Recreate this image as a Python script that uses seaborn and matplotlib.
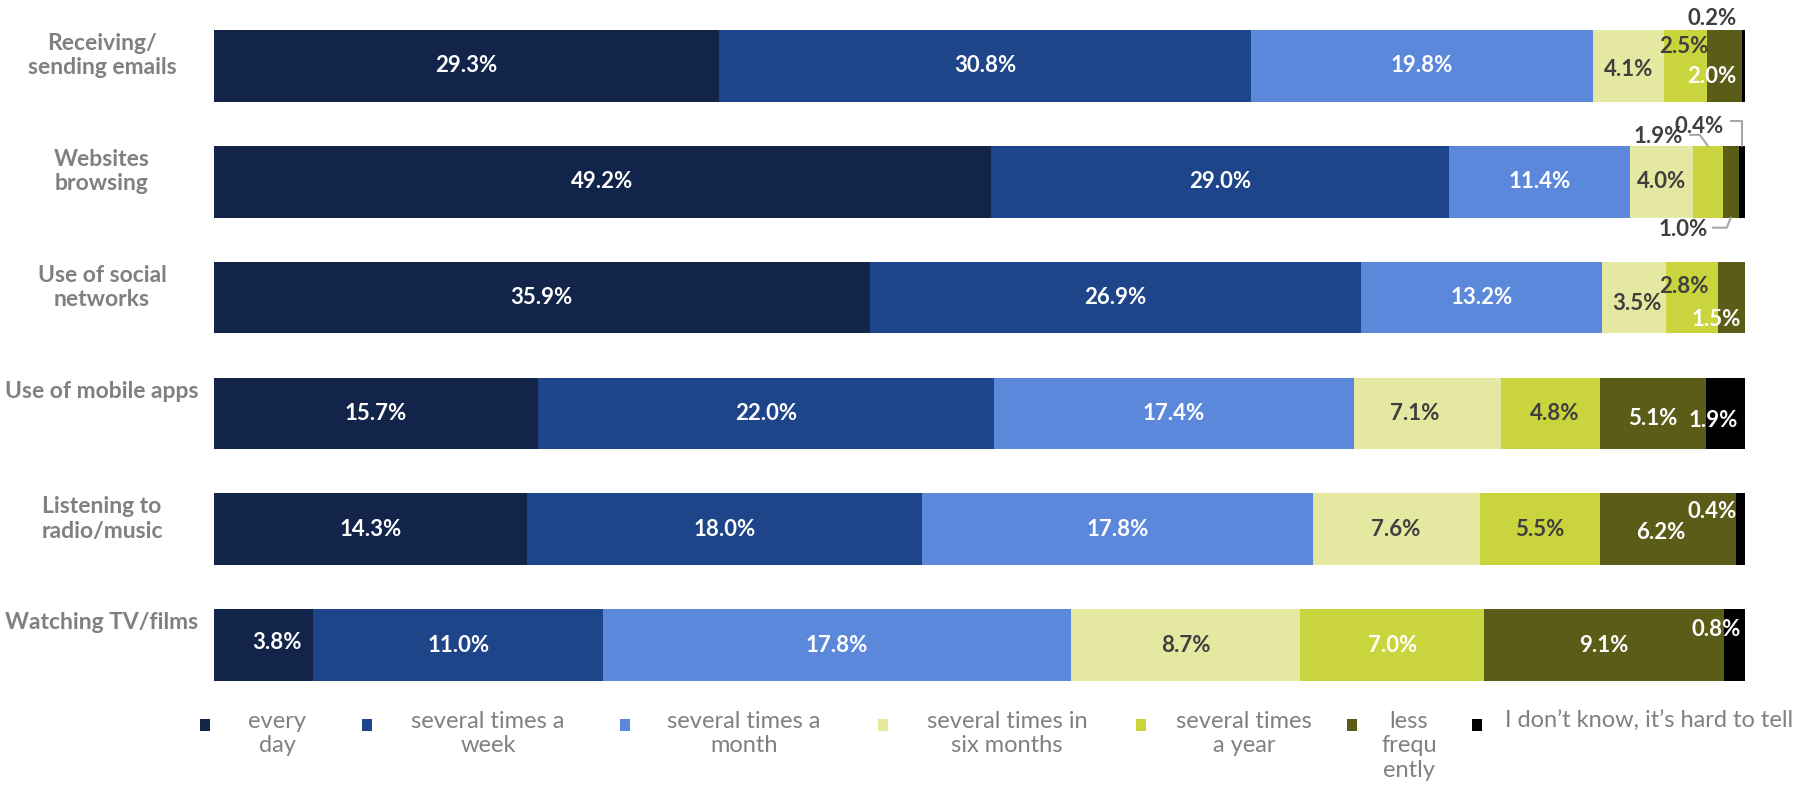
import numpy as np
import matplotlib
matplotlib.use("Agg")
import matplotlib.pyplot as plt
import matplotlib.transforms as mtransforms
from matplotlib.patches import Rectangle
from matplotlib.lines import Line2D
import seaborn as sns

# ---- data -------------------------------------------------------------
activities = [
    "Receiving/\nsending emails",
    "Websites\nbrowsing",
    "Use of social\nnetworks",
    "Use of mobile apps",
    "Listening to\nradio/music",
    "Watching TV/films",
]
frequencies = [
    "every\nday",
    "several times a\nweek",
    "several times a\nmonth",
    "several times in\nsix months",
    "several times\na year",
    "less\nfrequ\nently",
    "I don\u2019t know, it\u2019s hard to tell",
]
every_day = [29.3, 49.2, 35.9, 15.7, 14.3, 3.8]
several_weekly = [30.8, 29.0, 26.9, 22.0, 18.0, 11.0]
several_monthly = [19.8, 11.4, 13.2, 17.4, 17.8, 17.8]
several_half_year = [4.1, 4.0, 3.5, 7.1, 7.6, 8.7]
several_yearly = [2.5, 1.9, 2.8, 4.8, 5.5, 7.0]
less_frequently = [2.0, 1.0, 1.5, 5.1, 6.2, 9.1]
hard_to_tell = [0.2, 0.4, 0.0, 1.9, 0.4, 0.8]

palette = ["#12244A", "#1E4489", "#5B88DB", "#E5E8A0", "#CAD43C", "#5B5C17", "#000000"]

# ---- style ------------------------------------------------------------
sns.set_theme(style="white")
plt.rcParams["font.family"] = ["Lato", "DejaVu Sans"]
WHITE, DARK, GREY = "#FFFFFF", "#3F3F3F", "#808080"

series = np.array([every_day, several_weekly, several_monthly, several_half_year,
                   several_yearly, less_frequently, hard_to_tell])
shares = series / series.sum(axis=0)          # each bar spans its row total
ends = np.cumsum(shares, axis=0)
starts = ends - shares

W, H = 1800, 785
fig = plt.figure(figsize=(W / 100, H / 100), dpi=100)
left_px, right_px, top_px, bottom_px = 213.5, 1745, 8, 703
ax = fig.add_axes([left_px / W, 1 - bottom_px / H,
                   (right_px - left_px) / W, (bottom_px - top_px) / H])

BAR_H = 0.62
# stacked bars: draw cumulative ends from the last category backwards
for k in reversed(range(len(frequencies))):
    sns.barplot(x=ends[k], y=activities, color=palette[k], orient="h",
                width=BAR_H, saturation=1, linewidth=0, errorbar=None, ax=ax)

ax.set_xlim(0, 1)
ax.set_ylim(len(activities) - 0.5, -0.5)
ax.set_xticks([])
ax.set_yticks([])
ax.set_xlabel("")
ax.set_ylabel("")
for s in ax.spines.values():
    s.set_visible(False)

# ---- value labels -----------------------------------------------------
def text_color(row, k):
    if k <= 2:
        return WHITE
    if k == 3:
        return DARK
    if k == 4:
        return WHITE if row == 5 else DARK
    if k == 5:
        return DARK if row == 1 else WHITE
    return DARK if row in (0, 1) else WHITE

# pixel nudges (right, up) for crowded labels
nudges = {
    (0, 3): (0, -4), (0, 4): (-2, 19), (0, 5): (-13, -11), (0, 6): (-31, 47),
    (1, 4): (-50, 45), (1, 5): (-48, -48), (1, 6): (-43, 55),
    (2, 3): (2, -6), (2, 4): (-8, 11), (2, 5): (-15, -22),
    (3, 3): (-13, 0), (3, 4): (4, 0), (3, 5): (0, -5), (3, 6): (-12, -7),
    (4, 5): (-7, -3), (4, 6): (-28, 18),
    (5, 0): (13, 3), (5, 6): (-18, 16),
}

for k in range(series.shape[0]):
    for row in range(series.shape[1]):
        v = series[k, row]
        if v <= 0:
            continue
        cx = (starts[k, row] + ends[k, row]) / 2
        dx, dy = nudges.get((row, k), (0, 0))
        ax.annotate(f"{v:.1f}%", xy=(cx, row), xycoords="data",
                    xytext=(dx, dy), textcoords="offset pixels",
                    ha="center", va="center", fontsize=16, fontweight="bold",
                    color=text_color(row, k), annotation_clip=False)

# leader lines for the thin segments of the browsing bar (pixel offsets)
leaders = [
    (4, -1, [(-18, 11), (-8, 11), (0, 0)]),
    (6, -1, [(-11, 25), (0, 25), (0, 0)]),
    (5, +1, [(-18, -10), (-4, -10), (0, 0)]),
]
row = 1
for k, side, pts in leaders:
    cx = (starts[k, row] + ends[k, row]) / 2
    edge = row + side * BAR_H / 2
    ox, oy = ax.transData.transform((cx, edge))
    tr = mtransforms.Affine2D().translate(ox, oy)
    xs, ys = zip(*pts)
    fig.add_artist(Line2D(xs, ys, transform=tr, color="#A6A6A6", lw=1.5))

# ---- category labels ---------------------------------------------------
lab_tr = mtransforms.offset_copy(
    mtransforms.blended_transform_factory(ax.transAxes, ax.transData),
    fig=fig, x=0, y=-3, units="dots")
for i, name in enumerate(activities):
    ax.text((102 - left_px) / (right_px - left_px), i - BAR_H / 2, name,
            transform=lab_tr, ha="center", va="top", multialignment="center",
            fontsize=16.5, fontweight="bold", color=GREY, linespacing=1.2)

# ---- legend -----------------------------------------------------------
marker_x = [205, 367, 625, 883, 1141, 1352, 1477]
text_x = [277, 488, 744, 1007, 1244, 1409, 1505]
leg_y = 725
for i, name in enumerate(frequencies):
    fig.add_artist(Rectangle(((marker_x[i] - 5) / W, 1 - (leg_y + 6) / H),
                             10 / W, 12 / H, transform=fig.transFigure,
                             color=palette[i], lw=0))
    ha = "left" if i == len(frequencies) - 1 else "center"
    fig.text(text_x[i] / W, 1 - (leg_y - 14) / H, name, ha=ha, va="top",
             multialignment="center", fontsize=17, color=GREY, linespacing=1.2)

fig.savefig("out.png", dpi=100, facecolor="white")
